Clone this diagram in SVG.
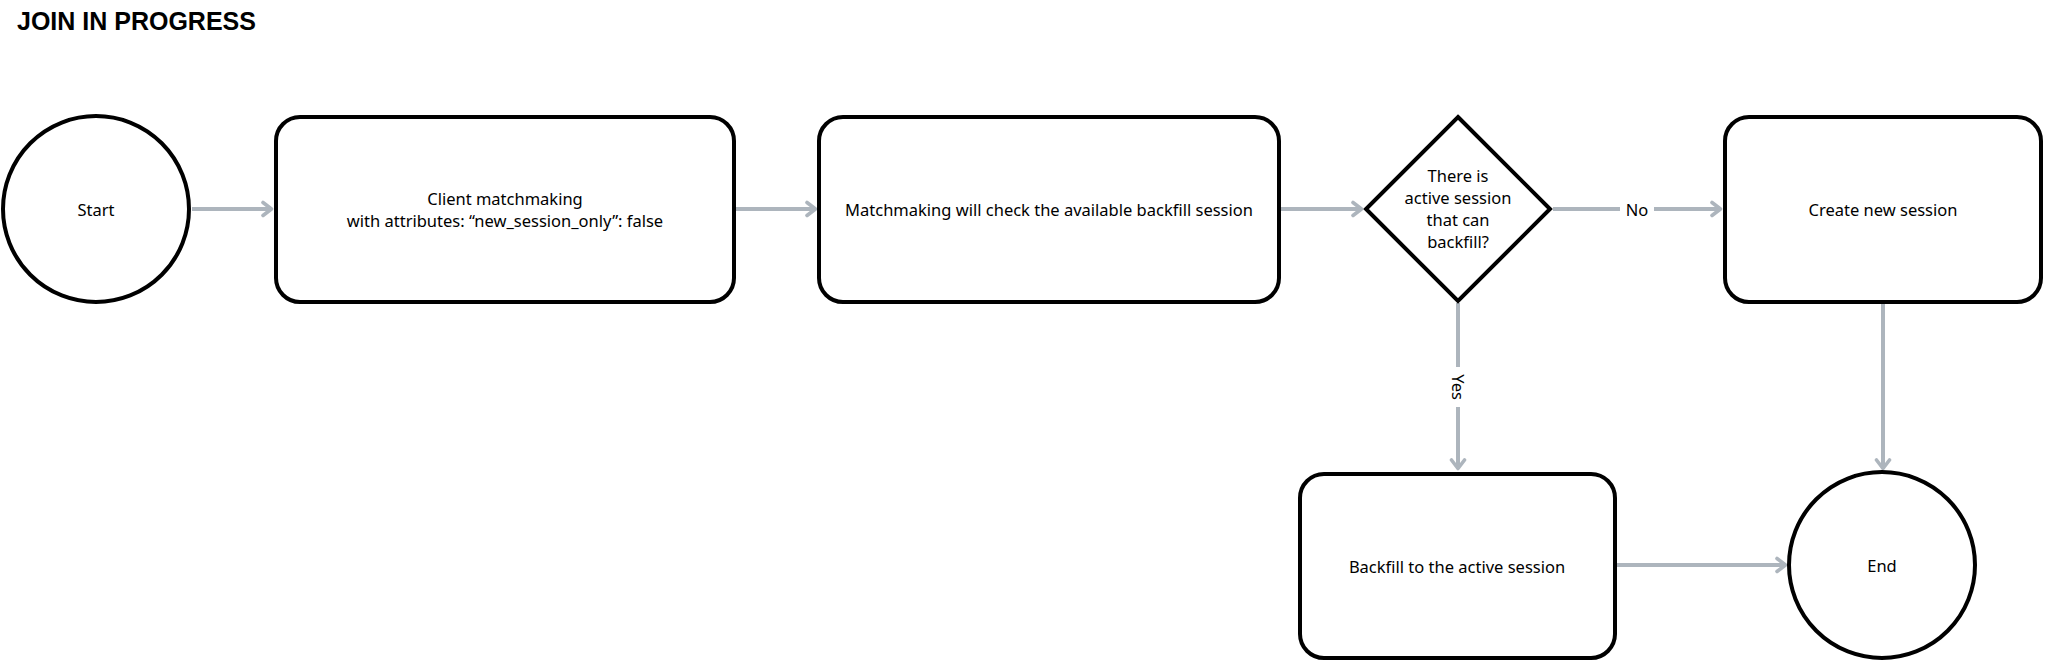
<svg xmlns="http://www.w3.org/2000/svg" width="2045" height="662" viewBox="0 0 2045 662">
<style>
.node{fill:#fff;stroke:#000;stroke-width:4}
.lbl{font-family:"Noto Sans","Open Sans",sans-serif;font-size:16.5px;fill:#000;text-anchor:middle;dominant-baseline:central}
.title{font-family:"Liberation Sans",Arial,sans-serif;font-weight:bold;font-size:25px;fill:#000}
.conn{fill:none;stroke:#adb5bd;stroke-width:4}
</style>
<defs>
<marker id="arr" viewBox="0 0 14 18" refX="12" refY="9" markerWidth="14" markerHeight="18" markerUnits="userSpaceOnUse" orient="auto">
<path d="M3,2.5 L11.5,9 L3,15.5" fill="none" stroke="#adb5bd" stroke-width="3.6" stroke-linecap="round" stroke-linejoin="round"/>
</marker>
</defs>
<rect width="2045" height="662" fill="#fff"/>
<text class="title" x="17" y="30">JOIN IN PROGRESS</text>
<g id="connectors">
<path class="conn" d="M192,209 H272" marker-end="url(#arr)"/>
<path class="conn" d="M736,209 H816" marker-end="url(#arr)"/>
<path class="conn" d="M1281,209 H1362" marker-end="url(#arr)"/>
<path class="conn" d="M1553,209 H1620"/>
<path class="conn" d="M1654,209 H1721" marker-end="url(#arr)"/>
<text class="lbl" x="1637" y="209">No</text>
<path class="conn" d="M1458,303 V367"/>
<path class="conn" d="M1458,407 V469" marker-end="url(#arr)"/>
<text class="lbl" x="1458" y="387" transform="rotate(90 1458 387)">Yes</text>
<path class="conn" d="M1883,304 V469" marker-end="url(#arr)"/>
<path class="conn" d="M1617,565 H1786" marker-end="url(#arr)"/>
</g>
<g id="start">
<circle class="node" cx="96" cy="209" r="93"/>
<text class="lbl" x="96" y="209">Start</text>
</g>
<g id="client">
<rect class="node" x="276" y="117" width="458" height="185" rx="24"/>
<text class="lbl" x="505" y="198">Client matchmaking</text>
<text class="lbl" x="505" y="220">with attributes: “new_session_only”: false</text>
</g>
<g id="check">
<rect class="node" x="819" y="117" width="460" height="185" rx="24"/>
<text class="lbl" x="1049" y="209">Matchmaking will check the available backfill session</text>
</g>
<g id="decision">
<polygon class="node" points="1458,117 1550,209 1458,301 1366,209"/>
<text class="lbl" x="1458" y="175">There is</text>
<text class="lbl" x="1458" y="197">active session</text>
<text class="lbl" x="1458" y="219">that can</text>
<text class="lbl" x="1458" y="241">backfill?</text>
</g>
<g id="create">
<rect class="node" x="1725" y="117" width="316" height="185" rx="24"/>
<text class="lbl" x="1883" y="209">Create new session</text>
</g>
<g id="backfill">
<rect class="node" x="1300" y="474" width="315" height="184" rx="24"/>
<text class="lbl" x="1457" y="566">Backfill to the active session</text>
</g>
<g id="end">
<circle class="node" cx="1882" cy="565" r="93"/>
<text class="lbl" x="1882" y="565">End</text>
</g>
</svg>
